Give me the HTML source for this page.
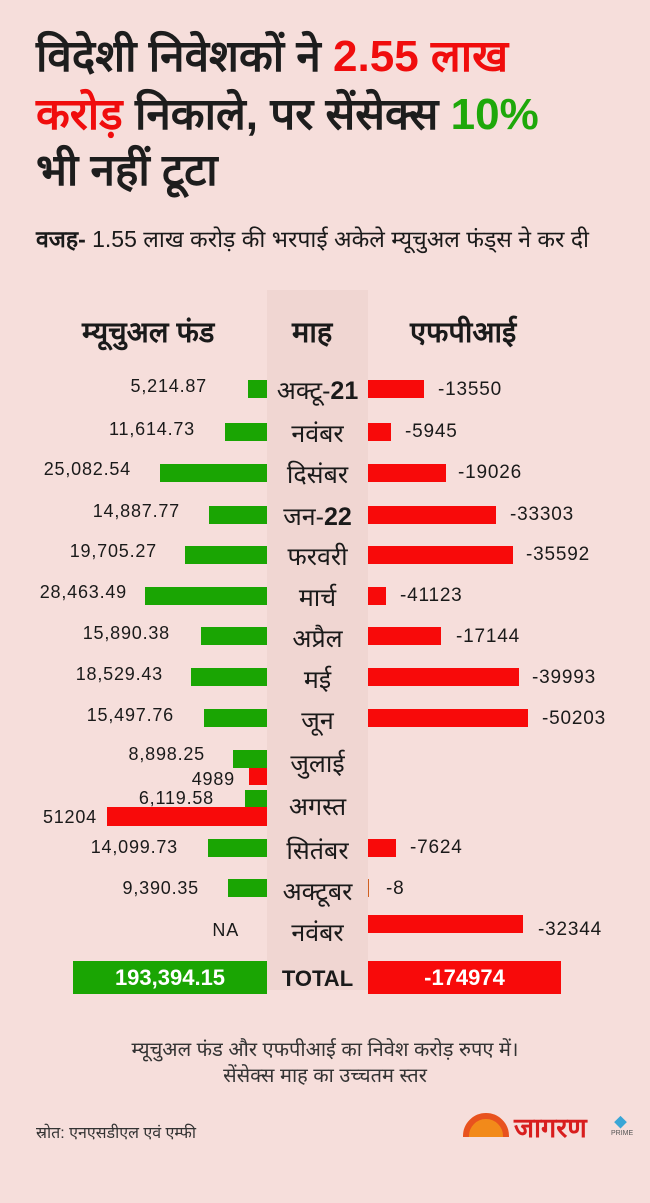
<!DOCTYPE html>
<html><head><meta charset="utf-8"><style>
*{margin:0;padding:0;box-sizing:border-box}
body{width:650px;height:1203px;background:#f6dedb;font-family:"Liberation Sans","Noto Sans CJK SC",sans-serif;position:relative;overflow:hidden;color:#1a1a1a}
.a{position:absolute;white-space:nowrap}
.t{left:36px;font-size:44px;font-weight:bold;line-height:54px;color:#1d1d1d}
.r{color:#f00d0d}.g{color:#1ea80a}
.col{position:absolute;left:267px;top:290px;width:101px;height:700px;background:#f0d6d2}
.gb{position:absolute;background:#1aa503}
.rb{position:absolute;background:#f80a0a}
.m{position:absolute;left:257px;width:121px;text-align:center;font-size:25px;margin-top:-3px}
.n{position:absolute;font-size:18px;text-align:right;letter-spacing:0.8px}
.v{position:absolute;font-size:19px;letter-spacing:0.8px}
</style></head><body>
<div class="col"></div>
<div class="a t" style="top:30px">विदेशी निवेशकों ने <span class="r">2.55 लाख</span></div>
<div class="a t" style="top:88px"><span class="r">करोड़</span> निकाले, पर सेंसेक्स <span class="g">10%</span></div>
<div class="a t" style="top:144px">भी नहीं टूटा</div>
<div class="a" style="left:36px;top:222px;font-size:23px"><b>वजह-</b> 1.55 लाख करोड़ की भरपाई अकेले म्यूचुअल फंड्स ने कर दी</div>
<div class="a" style="left:82px;top:312px;font-size:29px;font-weight:bold">म्यूचुअल फंड</div>
<div class="a" style="left:292px;top:312px;font-size:29px;font-weight:bold">माह</div>
<div class="a" style="left:410px;top:312px;font-size:29px;font-weight:bold">एफपीआई</div>

<div class="gb" style="left:248px;top:380px;width:19px;height:18px"></div><div class="rb" style="left:368px;top:380px;width:56px;height:18px"></div>
<div class="n" style="right:443px;top:376px">5,214.87</div><div class="m" style="top:376px">अक्टू-<b>21</b></div><div class="v" style="left:438px;top:379px">-13550</div>

<div class="gb" style="left:225px;top:423px;width:42px;height:18px"></div><div class="rb" style="left:368px;top:423px;width:23px;height:18px"></div>
<div class="n" style="right:455px;top:419px">11,614.73</div><div class="m" style="top:419px">नवंबर</div><div class="v" style="left:405px;top:421px">-5945</div>

<div class="gb" style="left:160px;top:464px;width:107px;height:18px"></div><div class="rb" style="left:368px;top:464px;width:78px;height:18px"></div>
<div class="n" style="right:519px;top:459px">25,082.54</div><div class="m" style="top:460px">दिसंबर</div><div class="v" style="left:458px;top:462px">-19026</div>

<div class="gb" style="left:209px;top:506px;width:58px;height:18px"></div><div class="rb" style="left:368px;top:506px;width:128px;height:18px"></div>
<div class="n" style="right:470px;top:501px">14,887.77</div><div class="m" style="top:502px">जन-<b>22</b></div><div class="v" style="left:510px;top:504px">-33303</div>

<div class="gb" style="left:185px;top:546px;width:82px;height:18px"></div><div class="rb" style="left:368px;top:546px;width:145px;height:18px"></div>
<div class="n" style="right:493px;top:541px">19,705.27</div><div class="m" style="top:542px">फरवरी</div><div class="v" style="left:526px;top:544px">-35592</div>

<div class="gb" style="left:145px;top:587px;width:122px;height:18px"></div><div class="rb" style="left:368px;top:587px;width:18px;height:18px"></div>
<div class="n" style="right:523px;top:582px">28,463.49</div><div class="m" style="top:583px">मार्च</div><div class="v" style="left:400px;top:585px">-41123</div>

<div class="gb" style="left:201px;top:627px;width:66px;height:18px"></div><div class="rb" style="left:368px;top:627px;width:73px;height:18px"></div>
<div class="n" style="right:480px;top:623px">15,890.38</div><div class="m" style="top:624px">अप्रैल</div><div class="v" style="left:456px;top:626px">-17144</div>

<div class="gb" style="left:191px;top:668px;width:76px;height:18px"></div><div class="rb" style="left:368px;top:668px;width:151px;height:18px"></div>
<div class="n" style="right:487px;top:664px">18,529.43</div><div class="m" style="top:665px">मई</div><div class="v" style="left:532px;top:667px">-39993</div>

<div class="gb" style="left:204px;top:709px;width:63px;height:18px"></div><div class="rb" style="left:368px;top:709px;width:160px;height:18px"></div>
<div class="n" style="right:476px;top:705px">15,497.76</div><div class="m" style="top:706px">जून</div><div class="v" style="left:542px;top:708px">-50203</div>

<div class="gb" style="left:233px;top:750px;width:34px;height:18px"></div><div class="rb" style="left:249px;top:768px;width:18px;height:17px"></div>
<div class="n" style="right:445px;top:744px">8,898.25</div><div class="n" style="right:415px;top:769px">4989</div><div class="m" style="top:749px">जुलाई</div>

<div class="gb" style="left:245px;top:790px;width:22px;height:17px"></div><div class="rb" style="left:107px;top:807px;width:160px;height:19px"></div>
<div class="n" style="right:436px;top:788px">6,119.58</div><div class="n" style="right:553px;top:807px">51204</div><div class="m" style="top:792px">अगस्त</div>

<div class="gb" style="left:208px;top:839px;width:59px;height:18px"></div><div class="rb" style="left:368px;top:839px;width:28px;height:18px"></div>
<div class="n" style="right:472px;top:837px">14,099.73</div><div class="m" style="top:836px">सितंबर</div><div class="v" style="left:410px;top:837px">-7624</div>

<div class="gb" style="left:228px;top:879px;width:39px;height:18px"></div><div class="rb" style="left:368px;top:879px;width:1px;height:18px;background:#d06020"></div>
<div class="n" style="right:451px;top:878px">9,390.35</div><div class="m" style="top:877px">अक्टूबर</div><div class="v" style="left:386px;top:878px">-8</div>

<div class="rb" style="left:368px;top:915px;width:155px;height:18px"></div>
<div class="n" style="right:411px;top:920px">NA</div><div class="m" style="top:918px">नवंबर</div><div class="v" style="left:538px;top:919px">-32344</div>

<div class="gb" style="left:73px;top:961px;width:194px;height:33px;color:#fff;font-size:22px;font-weight:bold;text-align:center;line-height:33px">193,394.15</div>
<div class="m" style="top:966px;font-weight:bold;font-size:22px;margin-top:0">TOTAL</div>
<div class="rb" style="left:368px;top:961px;width:193px;height:33px;color:#fff;font-size:22px;font-weight:bold;text-align:center;line-height:33px">-174974</div>

<div class="a" style="left:0;width:650px;text-align:center;top:1035px;font-size:20px;color:#333">म्यूचुअल फंड और एफपीआई का निवेश करोड़ रुपए में।</div>
<div class="a" style="left:0;width:650px;text-align:center;top:1061px;font-size:20px;color:#333">सेंसेक्स माह का उच्चतम स्तर</div>
<div class="a" style="left:36px;top:1121px;font-size:16px;color:#333">स्रोत: एनएसडीएल एवं एम्फी</div>
<div class="a" style="left:463px;top:1113px;width:46px;height:24px;overflow:hidden"><div style="width:46px;height:46px;border-radius:50%;background:#f28a1a;border:6px solid #e8521e"></div></div>
<div class="a" style="left:514px;top:1108px;font-size:27px;font-weight:bold;color:#d81e1e">जागरण</div>
<div class="a" style="left:614px;top:1112px;font-size:13px;color:#3aa6d6">◆</div>
<div class="a" style="left:611px;top:1130px;font-size:7px;color:#555">PRIME</div>
</body></html>
